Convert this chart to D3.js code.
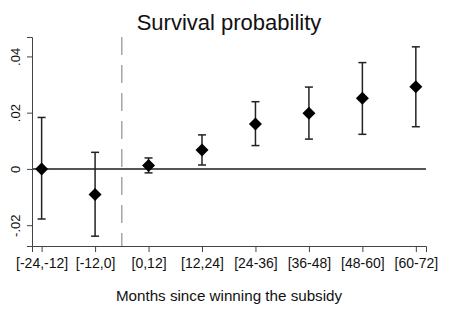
<!DOCTYPE html>
<html>
<head>
<meta charset="utf-8">
<script src="https://cdn.jsdelivr.net/npm/d3@7"></script>
<style>
  body { margin: 0; background: #fff; }
  text { font-family: "Liberation Sans", Arial, sans-serif; }
</style>
</head>
<body>
<div id="chart"></div>
<script>
const categories = ["[-24,-12]", "[-12,0]", "[0,12]", "[12,24]", "[24-36]", "[36-48]", "[48-60]", "[60-72]"];
const estimates = [0, -0.0091, 0.0012, 0.0067, 0.0160, 0.0198, 0.0251, 0.0292];
const upper = [0.0183, 0.0059, 0.0039, 0.0121, 0.0239, 0.0291, 0.0378, 0.0434];
const lower = [-0.0178, -0.0239, -0.0014, 0.0014, 0.0083, 0.0106, 0.0123, 0.0150];
const yTicks = [-0.02, 0, 0.02, 0.04];
const yTickLabels = ["-.02", "0", ".02", ".04"];

const width = 451, height = 326;
const margin = { top: 37, right: 25, bottom: 80, left: 32 };

const svg = d3.select("#chart").append("svg")
  .attr("width", width).attr("height", height);

const x = d3.scaleLinear()
  .domain([0.82, 8.19])
  .range([margin.left, width - margin.right]);

const y = d3.scaleLinear()
  .domain([-0.0274, 0.0469])
  .range([height - margin.bottom, margin.top]);

const data = categories.map((c, i) => ({
  cat: c, pos: i + 1, est: estimates[i], hi: upper[i], lo: lower[i]
}));

// title
svg.append("text")
  .attr("x", 229).attr("y", 30)
  .attr("text-anchor", "middle")
  .attr("font-size", 22)
  .attr("fill", "#111")
  .text("Survival probability");

// dashed line at treatment
svg.append("line")
  .attr("x1", x(2.5)).attr("x2", x(2.5))
  .attr("y1", y.range()[1]).attr("y2", y.range()[0])
  .attr("stroke", "#999").attr("stroke-width", 1.3)
  .attr("stroke-dasharray", "18,10");

// zero line
svg.append("line")
  .attr("x1", x.range()[0]).attr("x2", x.range()[1])
  .attr("y1", y(0)).attr("y2", y(0))
  .attr("stroke", "#555").attr("stroke-width", 2);

// y axis
const yAxis = svg.append("g")
  .attr("transform", `translate(${margin.left},0)`)
  .call(d3.axisLeft(y).tickValues(yTicks).tickSize(5).tickFormat((d, i) => yTickLabels[i]));
yAxis.select(".domain").attr("stroke", "#444");
yAxis.selectAll(".tick line").attr("stroke", "#444");
yAxis.selectAll(".tick text")
  .attr("font-size", 13)
  .attr("fill", "#111")
  .attr("text-anchor", "middle")
  .attr("x", 0).attr("dy", 0)
  .attr("transform", "translate(-12,0) rotate(-90)")
  .attr("y", 0);

// x axis
const xAxis = svg.append("g")
  .attr("transform", `translate(0,${height - margin.bottom})`)
  .call(d3.axisBottom(x).tickValues(data.map(d => d.pos)).tickSize(6).tickFormat((d, i) => categories[i]));
xAxis.select(".domain").attr("stroke", "#444");
xAxis.selectAll(".tick line").attr("stroke", "#444");
xAxis.selectAll(".tick text")
  .attr("font-size", 14)
  .attr("fill", "#111")
  .attr("y", 12);

// x axis title
svg.append("text")
  .attr("x", 229).attr("y", 301)
  .attr("text-anchor", "middle")
  .attr("font-size", 15.2)
  .attr("fill", "#111")
  .text("Months since winning the subsidy");

// error bars
const bars = svg.append("g").attr("stroke", "#222").attr("stroke-width", 1.5);
bars.selectAll(".ci").data(data).join("line")
  .attr("x1", d => x(d.pos)).attr("x2", d => x(d.pos))
  .attr("y1", d => y(d.hi)).attr("y2", d => y(d.lo));
bars.selectAll(".cap-hi").data(data).join("line")
  .attr("x1", d => x(d.pos) - 4).attr("x2", d => x(d.pos) + 4)
  .attr("y1", d => y(d.hi)).attr("y2", d => y(d.hi));
bars.selectAll(".cap-lo").data(data).join("line")
  .attr("x1", d => x(d.pos) - 4).attr("x2", d => x(d.pos) + 4)
  .attr("y1", d => y(d.lo)).attr("y2", d => y(d.lo));

// diamond markers
const r = 6.5;
svg.append("g").selectAll("path").data(data).join("path")
  .attr("transform", d => `translate(${x(d.pos)},${y(d.est)})`)
  .attr("d", `M0,${-r}L${r},0L0,${r}L${-r},0Z`)
  .attr("fill", "#000");
</script>
</body>
</html>
